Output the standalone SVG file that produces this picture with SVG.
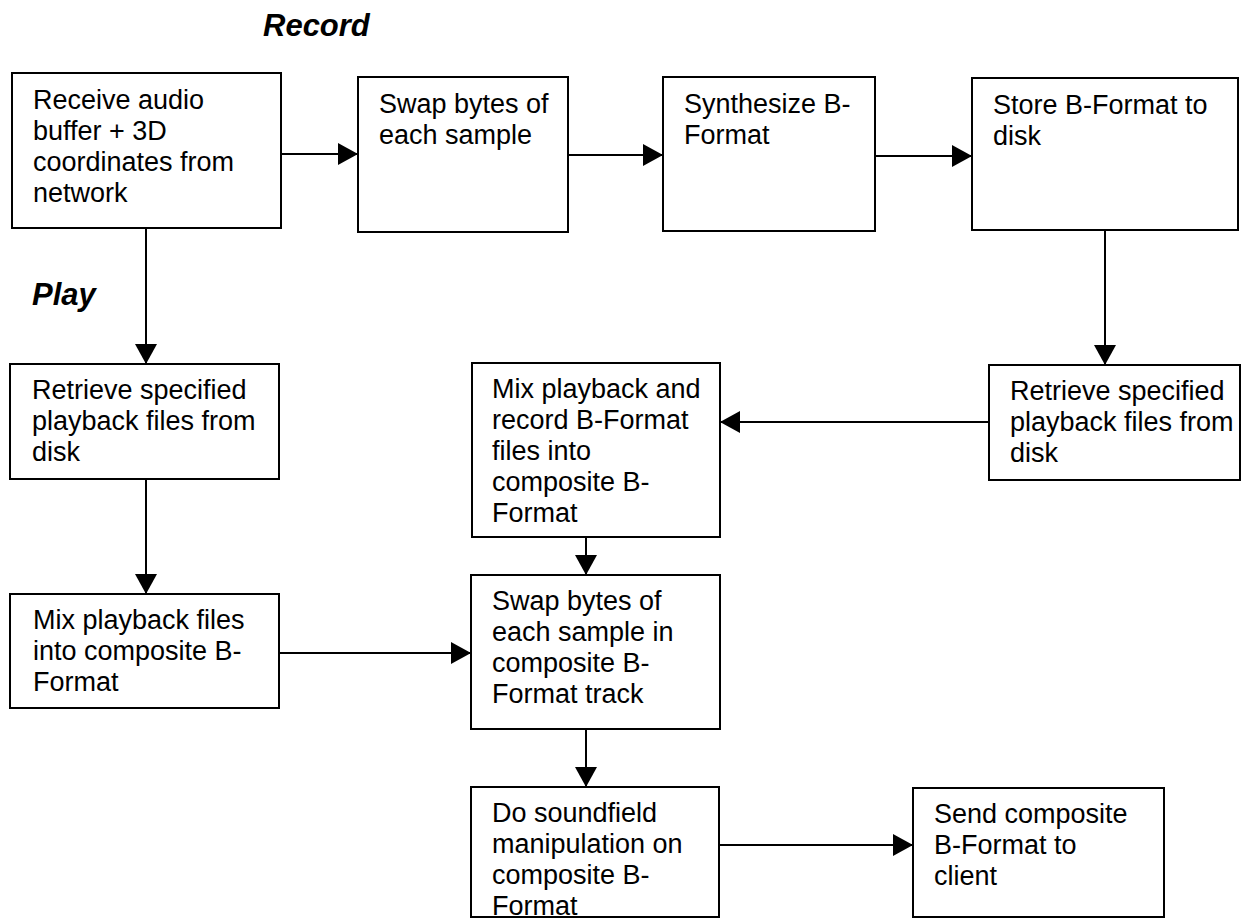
<svg xmlns="http://www.w3.org/2000/svg" width="1255" height="922" viewBox="0 0 1255 922">
  <style>
    .box { fill: #ffffff; stroke: #000000; stroke-width: 2; }
    .lbl { font-family: "Liberation Sans", Arial, sans-serif; font-size: 27px; fill: #000000; }
    .head { font-family: "Liberation Sans", Arial, sans-serif; font-size: 31px; font-weight: bold; font-style: italic; fill: #000000; }
    .conn { fill: none; stroke: #000000; stroke-width: 2; marker-end: url(#arrow); }
  </style>
  <defs>
    <marker id="arrow" markerUnits="userSpaceOnUse" markerWidth="20" markerHeight="22" refX="20" refY="11" orient="auto">
      <path d="M0,0 L20,11 L0,22 Z" fill="#000000"/>
    </marker>
  </defs>
  <rect width="1255" height="922" fill="#ffffff"/>

  <!-- section headings -->
  <text class="head" x="263" y="36">Record</text>
  <text class="head" x="32" y="305">Play</text>

  <!-- connectors -->
  <g id="connectors">
    <line class="conn" x1="281" y1="154" x2="358" y2="154"/>
    <line class="conn" x1="568" y1="155" x2="663" y2="155"/>
    <line class="conn" x1="875" y1="156" x2="972" y2="156"/>
    <line class="conn" x1="146" y1="228" x2="146" y2="364"/>
    <line class="conn" x1="1105" y1="230" x2="1105" y2="365"/>
    <line class="conn" x1="989" y1="422" x2="720" y2="422"/>
    <line class="conn" x1="146" y1="479" x2="146" y2="594"/>
    <line class="conn" x1="279" y1="653" x2="471" y2="653"/>
    <line class="conn" x1="586" y1="537" x2="586" y2="575"/>
    <line class="conn" x1="586" y1="729" x2="586" y2="787"/>
    <line class="conn" x1="719" y1="845" x2="913" y2="845"/>
  </g>

  <!-- nodes -->
  <g id="receive">
    <rect class="box" x="12" y="73" width="269" height="155"/>
    <text class="lbl" x="33"><tspan x="33" y="109">Receive audio</tspan><tspan x="33" y="140">buffer + 3D</tspan><tspan x="33" y="171">coordinates from</tspan><tspan x="33" y="202">network</tspan></text>
  </g>
  <g id="swap-bytes">
    <rect class="box" x="358" y="77" width="210" height="155"/>
    <text class="lbl"><tspan x="379" y="113">Swap bytes of</tspan><tspan x="379" y="144">each sample</tspan></text>
  </g>
  <g id="synthesize">
    <rect class="box" x="663" y="77" width="212" height="154"/>
    <text class="lbl"><tspan x="684" y="113">Synthesize B-</tspan><tspan x="684" y="144">Format</tspan></text>
  </g>
  <g id="store">
    <rect class="box" x="972" y="78" width="266" height="152"/>
    <text class="lbl"><tspan x="993" y="114">Store B-Format to</tspan><tspan x="993" y="145">disk</tspan></text>
  </g>
  <g id="retrieve-play">
    <rect class="box" x="10" y="364" width="269" height="115"/>
    <text class="lbl"><tspan x="32" y="399">Retrieve specified</tspan><tspan x="32" y="430">playback files from</tspan><tspan x="32" y="461">disk</tspan></text>
  </g>
  <g id="mix-record">
    <rect class="box" x="472" y="363" width="248" height="174"/>
    <text class="lbl"><tspan x="492" y="398">Mix playback and</tspan><tspan x="492" y="429">record B-Format</tspan><tspan x="492" y="460">files into</tspan><tspan x="492" y="491">composite B-</tspan><tspan x="492" y="522">Format</tspan></text>
  </g>
  <g id="retrieve-record">
    <rect class="box" x="989" y="365" width="251" height="115"/>
    <text class="lbl"><tspan x="1010" y="400">Retrieve specified</tspan><tspan x="1010" y="431">playback files from</tspan><tspan x="1010" y="462">disk</tspan></text>
  </g>
  <g id="mix-play">
    <rect class="box" x="10" y="594" width="269" height="114"/>
    <text class="lbl"><tspan x="33" y="629">Mix playback files</tspan><tspan x="33" y="660">into composite B-</tspan><tspan x="33" y="691">Format</tspan></text>
  </g>
  <g id="swap-composite">
    <rect class="box" x="471" y="575" width="249" height="154"/>
    <text class="lbl"><tspan x="492" y="610">Swap bytes of</tspan><tspan x="492" y="641">each sample in</tspan><tspan x="492" y="672">composite B-</tspan><tspan x="492" y="703">Format track</tspan></text>
  </g>
  <g id="soundfield">
    <rect class="box" x="471" y="787" width="248" height="130"/>
    <text class="lbl"><tspan x="492" y="822">Do soundfield</tspan><tspan x="492" y="853">manipulation on</tspan><tspan x="492" y="884">composite B-</tspan><tspan x="492" y="915">Format</tspan></text>
  </g>
  <g id="send">
    <rect class="box" x="913" y="788" width="251" height="129"/>
    <text class="lbl"><tspan x="934" y="823">Send composite</tspan><tspan x="934" y="854">B-Format to</tspan><tspan x="934" y="885">client</tspan></text>
  </g>
</svg>
